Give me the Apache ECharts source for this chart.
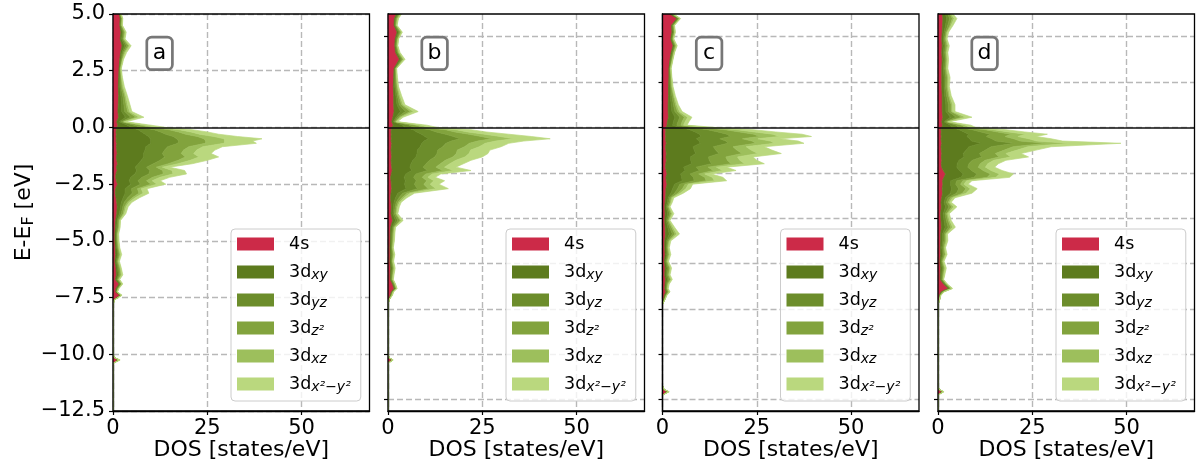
<!DOCTYPE html>
<html>
<head>
<meta charset="utf-8">
<script src="https://cdn.jsdelivr.net/npm/echarts@6.0.0/dist/echarts.min.js"></script>
<style>
  html, body { margin: 0; padding: 0; background: #ffffff; }
  #chart { width: 1198px; height: 470px; }
</style>
</head>
<body>
<div id="chart"></div>
<script>
// Energy grid (eV, relative to the Fermi level), shared by all four panels
const energy = [
  -12.5, -11.8, -11.65, -11.55, -11.4, -10.4, -10.25, -10.15, -10.0, -7.8,
  -7.6, -7.4, -7.25, -7.1, -6.9, -6.7, -6.5, -6.2, -5.9, -5.6,
  -5.3, -5.0, -4.7, -4.4, -4.1, -3.8, -3.5, -3.3, -3.1, -2.9,
  -2.7, -2.5, -2.35, -2.2, -2.05, -1.9, -1.75, -1.6, -1.45, -1.3,
  -1.15, -1.0, -0.85, -0.7, -0.6, -0.5, -0.4, -0.3, -0.2, -0.1,
  0.0, 0.1, 0.25, 0.45, 0.7, 1.0, 1.4, 1.8, 2.2, 2.6,
  3.0, 3.3, 3.6, 3.9, 4.2, 4.5, 4.8, 5.0
];

// Axis ticks
const dosTicks = [0, 25, 50];
const energyTicksMain = [-12.5, -10, -7.5, -5, -2.5, 0, 2.5, 5];
const energyTicksOther = [-12, -10, -8, -6, -4, -2, 0, 2, 4];

const panelTags = ['a', 'b', 'c', 'd'];
const orbitalNames = ['4s', '3dxy', '3dyz', '3dz2', '3dxz', '3dx2-y2'];

// ---- panel a: projected DOS (states/eV) ----
const a_4s = [
  0, 0, 0, 0, 0, 0, 1.3, 0.3, 0, 0,
  0.2, 1.8, 0.7, 0.8, 1.6, 0.6, 0.9, 0.8, 0.5, 0.7,
  0.6, 0.5, 0.5, 0.6, 0.7, 1.0, 1.1, 1.0, 0.8, 0.6,
  0.7, 1.2, 0.9, 0.7, 0.8, 1.1, 0.9, 1.2, 1.0, 0.9,
  1.1, 1.0, 0.9, 1.0, 0.8, 0.9, 0.8, 0.9, 0.8, 0.9,
  1.0, 1.3, 1.0, 1.5, 1.3, 1.4, 1.5, 1.4, 1.5, 1.6,
  1.8, 2.0, 2.4, 1.9, 2.1, 1.8, 1.9, 1.7
];
const a_dxy = [
  0, 0, 0, 0, 0, 0, 0.2, 0.1, 0, 0,
  0.1, 0.2, 0.2, 0.3, 0.3, 0.4, 0.5, 0.4, 0.4, 0.5,
  0.4, 0.3, 0.3, 0.4, 0.4, 0.7, 0.9, 1.2, 1.9, 2.6,
  2.5, 3.5, 3.4, 4.0, 5.0, 5.2, 5.0, 5.5, 6.5, 7.2,
  7.0, 7.5, 7.8, 9.0, 9.2, 9.0, 8.6, 7.6, 6.8, 5.8,
  3.9, 2.5, 0.7, 1.8, 1.0, 0.9, 0.6, 0.4, 0.3, 0.2,
  0.3, 0.4, 0.7, 0.4, 0.4, 0.2, 0.2, 0.1
];
const a_dyz = [
  0, 0, 0, 0, 0, 0, 0.1, 0, 0, 0,
  0.1, 0.1, 0.1, 0.2, 0.2, 0.2, 0.3, 0.3, 0.2, 0.3,
  0.2, 0.2, 0.2, 0.3, 0.2, 0.5, 0.6, 0.8, 1.2, 1.9,
  1.7, 2.6, 2.3, 3.0, 3.7, 3.5, 3.0, 4.0, 5.0, 5.6,
  5.0, 5.2, 5.8, 7.2, 7.4, 7.0, 6.6, 5.5, 5.0, 4.2,
  2.7, 1.8, 0.5, 1.4, 0.8, 0.6, 0.5, 0.3, 0.2, 0.1,
  0.2, 0.3, 0.5, 0.3, 0.3, 0.1, 0.2, 0.1
];
const a_dz2 = [
  0, 0, 0, 0, 0, 0, 0.1, 0, 0, 0,
  0, 0.1, 0.1, 0.1, 0.2, 0.2, 0.4, 0.3, 0.2, 0.3,
  0.2, 0.2, 0.2, 0.2, 0.3, 0.5, 0.5, 0.8, 1.2, 1.8,
  1.6, 2.8, 2.3, 2.8, 3.8, 3.4, 2.6, 4.0, 4.8, 5.5,
  5.0, 5.0, 5.6, 7.3, 7.2, 7.2, 6.4, 5.3, 4.8, 4.0,
  2.6, 1.8, 0.5, 1.4, 0.8, 0.6, 0.5, 0.3, 0.2, 0.1,
  0.2, 0.3, 0.5, 0.2, 0.3, 0.2, 0.1, 0.1
];
const a_dxz = [
  0, 0, 0, 0, 0, 0, 0.1, 0, 0, 0,
  0, 0.1, 0, 0.1, 0.1, 0.2, 0.2, 0.2, 0.2, 0.2,
  0.2, 0.2, 0.1, 0.2, 0.2, 0.3, 0.4, 0.5, 0.8, 1.1,
  1.0, 1.6, 1.5, 2.0, 2.6, 2.5, 1.6, 2.6, 3.2, 3.6,
  3.3, 3.5, 3.7, 5.0, 5.0, 5.4, 4.4, 3.7, 3.3, 2.7,
  1.7, 1.1, 0.3, 0.9, 0.5, 0.4, 0.3, 0.3, 0.1, 0.1,
  0.1, 0.3, 0.3, 0.2, 0.2, 0.1, 0.1, 0.1
];
const a_dx2y2 = [
  0, 0, 0, 0, 0, 0, 0.1, 0, 0, 0,
  0, 0.1, 0.1, 0.1, 0.2, 0.2, 0.3, 0.2, 0.2, 0.3,
  0.2, 0.2, 0.2, 0.2, 0.2, 0.4, 0.5, 0.7, 1.1, 1.5,
  1.5, 2.3, 2.1, 2.5, 3.6, 3.3, 1.9, 3.7, 4.5, 5.2,
  4.6, 4.8, 5.2, 8.5, 7.4, 10.0, 6.2, 5.0, 4.3, 3.4,
  2.1, 1.5, 0.5, 1.2, 0.6, 0.6, 0.4, 0.3, 0.2, 0.1,
  0.2, 0.3, 0.4, 0.2, 0.2, 0.1, 0.1, 0.1
];

// ---- panel b ----
const b_4s = [
  0, 0, 0, 0, 0, 0, 1.0, 0.2, 0, 0,
  0.2, 0.6, 0.9, 1.6, 1.2, 0.6, 0.6, 0.7, 0.5, 0.6,
  0.5, 0.6, 0.6, 0.7, 1.2, 0.8, 0.9, 0.8, 0.7, 0.8,
  1.0, 0.9, 0.8, 0.7, 0.9, 1.1, 1.0, 0.9, 0.8, 1.0,
  0.9, 0.8, 0.9, 1.0, 0.8, 0.9, 0.8, 0.9, 0.8, 0.9,
  1.0, 1.4, 1.0, 1.3, 1.6, 1.5, 1.5, 1.4, 1.5, 1.6,
  3.0, 2.0, 1.8, 1.9, 2.4, 1.6, 1.7, 2.2
];
const b_dxy = [
  0, 0, 0, 0, 0, 0, 0.1, 0.1, 0, 0,
  0.1, 0.2, 0.2, 0.3, 0.2, 0.2, 0.3, 0.4, 0.3, 0.3,
  0.3, 0.3, 0.4, 0.4, 0.8, 0.5, 0.6, 0.8, 1.3, 1.8,
  3.8, 3.5, 3.8, 3.6, 3.8, 5.2, 4.8, 5.2, 5.8, 6.4,
  6.8, 7.0, 7.6, 8.0, 8.8, 9.8, 9.0, 8.0, 6.8, 5.8,
  3.5, 2.5, 0.4, 0.8, 1.7, 0.9, 0.6, 0.4, 0.3, 0.2,
  0.4, 0.4, 0.2, 0.3, 0.4, 0.2, 0.3, 0.4
];
const b_dyz = [
  0, 0, 0, 0, 0, 0, 0.1, 0, 0, 0,
  0, 0.1, 0.1, 0.2, 0.2, 0.2, 0.2, 0.2, 0.2, 0.3,
  0.2, 0.2, 0.2, 0.3, 0.6, 0.4, 0.4, 0.6, 0.9, 1.3,
  3.0, 2.6, 2.9, 2.5, 2.7, 4.2, 3.5, 4.0, 4.4, 5.0,
  5.3, 5.4, 6.0, 6.4, 7.2, 8.4, 7.6, 6.4, 5.2, 4.4,
  2.5, 1.8, 0.3, 0.5, 1.3, 0.6, 0.4, 0.3, 0.2, 0.2,
  0.3, 0.2, 0.2, 0.2, 0.3, 0.2, 0.2, 0.3
];
const b_dz2 = [
  0, 0, 0, 0, 0, 0, 0.1, 0, 0, 0,
  0, 0.1, 0.1, 0.1, 0.2, 0.2, 0.2, 0.2, 0.2, 0.2,
  0.2, 0.2, 0.2, 0.2, 0.6, 0.4, 0.4, 0.5, 0.8, 1.2,
  2.9, 2.5, 2.8, 2.3, 2.6, 4.1, 3.4, 3.8, 4.2, 4.8,
  5.1, 5.2, 5.8, 6.2, 7.0, 8.4, 7.4, 6.2, 5.0, 4.2,
  2.4, 1.8, 0.3, 0.5, 1.3, 0.6, 0.4, 0.3, 0.2, 0.1,
  0.3, 0.2, 0.2, 0.2, 0.3, 0.2, 0.2, 0.3
];
const b_dxz = [
  0, 0, 0, 0, 0, 0, 0, 0, 0, 0,
  0, 0.1, 0.1, 0.1, 0.1, 0.1, 0.1, 0.2, 0.1, 0.2,
  0.1, 0.2, 0.2, 0.2, 0.3, 0.2, 0.3, 0.4, 0.6, 0.8,
  2.0, 1.7, 1.9, 1.5, 1.7, 2.8, 2.3, 2.5, 2.8, 3.2,
  3.4, 3.5, 3.9, 4.2, 4.8, 5.8, 5.0, 4.2, 3.4, 2.8,
  1.6, 1.2, 0.2, 0.4, 0.9, 0.4, 0.3, 0.2, 0.1, 0.1,
  0.2, 0.2, 0.1, 0.1, 0.2, 0.1, 0.2, 0.2
];
const b_dx2y2 = [
  0, 0, 0, 0, 0, 0, 0.1, 0, 0, 0,
  0, 0.1, 0.1, 0.1, 0.1, 0.1, 0.2, 0.2, 0.2, 0.2,
  0.1, 0.2, 0.2, 0.2, 0.5, 0.3, 0.4, 0.4, 0.7, 1.1,
  3.3, 2.3, 2.8, 1.9, 2.3, 4.6, 3.0, 3.6, 4.0, 4.6,
  5.0, 5.1, 5.8, 6.2, 7.4, 9.7, 8.2, 6.3, 4.8, 3.9,
  2.0, 1.6, 0.3, 0.5, 1.2, 0.5, 0.4, 0.2, 0.2, 0.1,
  0.3, 0.2, 0.1, 0.1, 0.2, 0.1, 0.2, 0.2
];

// ---- panel c ----
const c_4s = [
  0, 0, 1.2, 0.3, 0, 0, 0, 0, 0, 0,
  0.3, 0.5, 0.9, 0.6, 0.7, 0.8, 0.6, 0.7, 0.5, 0.7,
  0.6, 0.6, 0.8, 0.7, 0.6, 0.7, 0.6, 0.7, 0.8, 0.9,
  0.9, 1.2, 1.0, 0.9, 1.2, 1.0, 0.8, 0.9, 1.0, 0.9,
  1.0, 0.9, 0.8, 1.0, 0.9, 0.8, 0.9, 0.8, 0.9, 0.8,
  1.0, 1.2, 1.3, 1.6, 1.5, 1.5, 1.6, 1.6, 1.7, 1.7,
  2.0, 2.3, 2.8, 2.2, 2.5, 2.4, 3.8, 2.0
];
const c_dxy = [
  0, 0, 0.2, 0.1, 0, 0, 0, 0, 0, 0,
  0.1, 0.2, 0.3, 0.3, 0.3, 0.5, 0.4, 0.5, 0.3, 0.4,
  0.4, 0.5, 1.0, 0.7, 0.4, 0.7, 0.4, 0.6, 0.7, 1.3,
  1.8, 2.0, 4.2, 4.2, 3.6, 5.0, 4.8, 6.8, 6.5, 6.5,
  7.8, 7.5, 7.3, 9.0, 8.8, 8.2, 9.3, 9.0, 7.8, 6.4,
  3.8, 1.5, 1.6, 1.7, 1.0, 0.8, 0.5, 0.4, 0.2, 0.2,
  0.2, 0.3, 0.3, 0.2, 0.3, 0.2, 0.3, 0.3
];
const c_dyz = [
  0, 0, 0.1, 0, 0, 0, 0, 0, 0, 0,
  0.1, 0.2, 0.2, 0.2, 0.2, 0.4, 0.3, 0.3, 0.2, 0.3,
  0.2, 0.3, 0.8, 0.5, 0.3, 0.5, 0.3, 0.4, 0.4, 1.0,
  1.3, 1.4, 3.2, 3.1, 2.5, 3.8, 3.3, 5.3, 4.9, 4.8,
  6.2, 5.7, 5.4, 7.4, 7.1, 6.2, 7.8, 7.3, 6.0, 4.8,
  2.7, 1.1, 1.2, 1.3, 0.8, 0.6, 0.4, 0.2, 0.2, 0.1,
  0.2, 0.2, 0.2, 0.2, 0.2, 0.2, 0.2, 0.2
];
const c_dz2 = [
  0, 0, 0.1, 0, 0, 0, 0, 0, 0, 0,
  0.1, 0.1, 0.2, 0.2, 0.2, 0.4, 0.3, 0.4, 0.2, 0.3,
  0.2, 0.3, 0.7, 0.5, 0.3, 0.4, 0.3, 0.4, 0.4, 0.9,
  1.3, 1.4, 3.2, 3.0, 2.3, 3.7, 3.2, 5.2, 4.8, 4.6,
  6.1, 5.6, 5.2, 7.3, 7.0, 6.0, 7.7, 7.2, 5.8, 4.6,
  2.6, 1.1, 1.1, 1.2, 0.7, 0.5, 0.4, 0.2, 0.2, 0.1,
  0.2, 0.2, 0.2, 0.2, 0.2, 0.2, 0.2, 0.2
];
const c_dxz = [
  0, 0, 0.1, 0, 0, 0, 0, 0, 0, 0,
  0, 0.1, 0.2, 0.1, 0.2, 0.2, 0.2, 0.2, 0.2, 0.2,
  0.2, 0.2, 0.5, 0.4, 0.2, 0.3, 0.2, 0.2, 0.3, 0.6,
  0.9, 0.9, 2.2, 2.0, 1.6, 2.5, 2.2, 3.6, 3.3, 3.1,
  4.2, 3.8, 3.5, 5.0, 4.8, 4.1, 5.3, 5.0, 4.0, 3.2,
  1.8, 0.7, 0.8, 0.9, 0.5, 0.4, 0.2, 0.2, 0.1, 0.1,
  0.1, 0.1, 0.2, 0.1, 0.1, 0.1, 0.1, 0.1
];
const c_dx2y2 = [
  0, 0, 0.1, 0, 0, 0, 0, 0, 0, 0,
  0, 0.1, 0.2, 0.1, 0.2, 0.3, 0.2, 0.3, 0.2, 0.3,
  0.2, 0.3, 0.7, 0.4, 0.2, 0.4, 0.2, 0.3, 0.4, 0.8,
  1.2, 1.1, 3.2, 2.8, 1.8, 3.5, 2.7, 5.2, 4.5, 4.1,
  6.2, 5.5, 4.8, 7.8, 7.4, 5.7, 8.5, 7.7, 5.5, 4.2,
  2.1, 0.9, 1.0, 1.1, 0.7, 0.4, 0.3, 0.2, 0.1, 0.1,
  0.1, 0.1, 0.2, 0.1, 0.1, 0.1, 0.2, 0.2
];

// ---- panel d ----
const d_4s = [
  0, 0, 1.0, 0.2, 0, 0, 0, 0, 0, 0,
  0.3, 0.4, 0.8, 2.7, 1.5, 0.6, 0.6, 0.7, 0.5, 0.7,
  0.6, 0.7, 0.7, 0.9, 0.8, 0.7, 0.9, 0.8, 1.0, 1.2,
  1.1, 1.3, 1.2, 1.6, 2.0, 1.4, 1.0, 0.9, 1.0, 0.9,
  1.0, 0.9, 0.8, 1.0, 0.9, 0.8, 0.9, 0.8, 0.9, 0.8,
  1.0, 1.2, 1.0, 1.3, 1.1, 1.1, 1.1, 1.0, 1.0, 1.0,
  1.1, 1.0, 1.1, 1.0, 1.1, 1.2, 1.3, 1.2
];
const d_dxy = [
  0, 0, 0.2, 0.1, 0, 0, 0, 0, 0, 0,
  0.1, 0.1, 0.2, 0.4, 0.3, 0.3, 0.4, 0.4, 0.3, 0.5,
  0.4, 0.5, 0.5, 1.0, 0.8, 0.7, 1.1, 0.8, 1.0, 2.1,
  2.5, 2.0, 2.2, 4.5, 4.7, 4.3, 4.0, 4.2, 4.6, 6.0,
  5.7, 6.6, 7.4, 10.5, 8.0, 7.6, 6.8, 7.3, 6.0, 4.8,
  2.6, 2.1, 0.6, 2.0, 1.0, 1.0, 0.7, 0.6, 0.6, 0.5,
  0.5, 0.5, 0.5, 0.4, 0.5, 0.8, 1.0, 0.8
];
const d_dyz = [
  0, 0, 0.1, 0, 0, 0, 0, 0, 0, 0,
  0, 0.1, 0.2, 0.2, 0.2, 0.2, 0.2, 0.3, 0.2, 0.3,
  0.3, 0.4, 0.4, 0.8, 0.6, 0.5, 0.9, 0.6, 0.7, 1.6,
  1.9, 1.4, 1.6, 3.5, 3.6, 3.2, 2.9, 3.1, 3.5, 4.7,
  4.3, 5.1, 5.9, 8.8, 6.5, 5.9, 5.1, 5.7, 4.5, 3.5,
  1.9, 1.5, 0.4, 1.5, 0.7, 0.7, 0.5, 0.4, 0.5, 0.3,
  0.4, 0.3, 0.4, 0.3, 0.4, 0.6, 0.8, 0.6
];
const d_dz2 = [
  0, 0, 0.1, 0, 0, 0, 0, 0, 0, 0,
  0, 0.1, 0.2, 0.2, 0.2, 0.2, 0.2, 0.3, 0.2, 0.4,
  0.3, 0.4, 0.4, 0.7, 0.5, 0.4, 0.8, 0.5, 0.7, 1.6,
  1.9, 1.3, 1.6, 3.5, 3.6, 3.1, 2.8, 3.0, 3.4, 4.6,
  4.2, 5.0, 5.8, 8.6, 6.4, 5.8, 5.0, 5.6, 4.4, 3.4,
  1.8, 1.5, 0.4, 1.5, 0.7, 0.7, 0.5, 0.4, 0.4, 0.3,
  0.3, 0.3, 0.4, 0.3, 0.3, 0.6, 0.7, 0.6
];
const d_dxz = [
  0, 0, 0.1, 0, 0, 0, 0, 0, 0, 0,
  0, 0, 0.1, 0.2, 0.1, 0.1, 0.2, 0.2, 0.2, 0.2,
  0.2, 0.3, 0.2, 0.5, 0.4, 0.3, 0.5, 0.4, 0.5, 1.0,
  1.2, 0.9, 1.0, 2.3, 2.4, 2.1, 1.9, 2.0, 2.3, 3.1,
  2.8, 3.4, 4.0, 6.1, 4.4, 4.0, 3.4, 3.8, 3.0, 2.3,
  1.2, 1.0, 0.3, 1.1, 0.4, 0.4, 0.3, 0.3, 0.3, 0.2,
  0.2, 0.2, 0.3, 0.2, 0.2, 0.3, 0.5, 0.3
];
const d_dx2y2 = [
  0, 0, 0.1, 0, 0, 0, 0, 0, 0, 0,
  0, 0.1, 0.1, 0.2, 0.2, 0.1, 0.2, 0.3, 0.2, 0.3,
  0.2, 0.3, 0.3, 0.7, 0.4, 0.4, 0.8, 0.4, 0.6, 1.5,
  1.8, 1.1, 1.4, 3.6, 3.7, 2.9, 2.4, 2.8, 3.2, 4.7,
  4.0, 5.0, 6.1, 13.5, 6.8, 5.9, 4.8, 5.8, 4.2, 3.2,
  1.5, 1.4, 0.3, 1.6, 0.6, 0.6, 0.4, 0.3, 0.4, 0.3,
  0.3, 0.3, 0.3, 0.2, 0.3, 0.5, 0.7, 0.5
];

const panelLayers = [
  [a_4s, a_dxy, a_dyz, a_dz2, a_dxz, a_dx2y2],
  [b_4s, b_dxy, b_dyz, b_dz2, b_dxz, b_dx2y2],
  [c_4s, c_dxy, c_dyz, c_dz2, c_dxz, c_dx2y2],
  [d_4s, d_dxy, d_dyz, d_dz2, d_dxz, d_dx2y2]
];

// ---- styling / layout ----
const FONT = 'DejaVu Sans';
const orbitalColors = ['#cc2a48', '#5d7b1e', '#6c8d2b', '#82a33d', '#9dbf5c', '#bad87e'];
const legendText = {
  '4s': '4s',
  '3dxy': '3d{s|xy}',
  '3dyz': '3d{s|yz}',
  '3dz2': '3d{s|z²}',
  '3dxz': '3d{s|xz}',
  '3dx2-y2': '3d{s|x²\u2212y²}'
};
const gridLeft = [113, 388, 662.5, 938];
const gridWidth = 256.5;
const gridTop = 14;
const gridHeight = 397;
const dosMax = 68;
const eMin = -12.5, eMax = 5;

const tickFmt = v => (v < 0 ? '\u2212' : '') + Math.abs(v).toFixed(1);

// Stacked band k of a panel: area between cumulative sums k-1 and k
function bandRenderer(layers, k) {
  const lower = energy.map((_, i) => {
    let s = 0;
    for (let j = 0; j < k; j++) s += layers[j][i];
    return s;
  });
  const upper = lower.map((v, i) => v + layers[k][i]);
  return function (params, api) {
    const pts = [];
    for (let i = 0; i < energy.length; i++) pts.push(api.coord([upper[i], energy[i]]));
    for (let i = energy.length - 1; i >= 0; i--) pts.push(api.coord([lower[i], energy[i]]));
    const c = api.visual('color');
    return {
      type: 'polygon',
      shape: { points: pts },
      style: { fill: c, stroke: c, lineWidth: 0.7 }
    };
  };
}

const grids = [], xAxes = [], yAxes = [], series = [], legends = [], graphics = [];
const splitStyle = { color: '#b8b8b8', width: 1.4, type: [6, 3] };

panelTags.forEach((tag, p) => {
  grids.push({
    left: gridLeft[p], top: gridTop, width: gridWidth, height: gridHeight,
    show: true, borderColor: '#000', borderWidth: 1.3, backgroundColor: 'transparent',
    containLabel: false, outerBoundsMode: 'none', z: 10
  });
  xAxes.push({
    gridIndex: p, type: 'value', min: 0, max: dosMax,
    name: 'DOS [states/eV]', nameLocation: 'middle', nameGap: 28, nameMoveOverlap: false,
    nameTextStyle: { fontFamily: FONT, fontSize: 22, color: '#000' },
    axisLine: { show: true, onZero: false, lineStyle: { color: '#000', width: 1.3 } },
    axisTick: { show: true, length: 4, customValues: dosTicks, lineStyle: { color: '#000', width: 1.2 } },
    axisLabel: { show: true, customValues: dosTicks, fontFamily: FONT, fontSize: 21, color: '#000', margin: 7 },
    splitLine: { show: true, lineStyle: splitStyle }
  });
  const eTicks = p === 0 ? energyTicksMain : energyTicksOther;
  yAxes.push({
    gridIndex: p, type: 'value', min: eMin, max: eMax,
    name: p === 0 ? 'E-E{f|F} [eV]' : '',
    nameLocation: 'middle', nameGap: 76, nameRotate: 90, nameMoveOverlap: false,
    nameTextStyle: {
      fontFamily: FONT, fontSize: 22, color: '#000', lineHeight: 26,
      rich: { f: { fontFamily: FONT, fontSize: 16, color: '#000', lineHeight: 12, verticalAlign: 'bottom' } }
    },
    axisLine: { show: true, onZero: false, lineStyle: { color: '#000', width: 1.3 } },
    axisTick: { show: true, length: 4, customValues: eTicks, lineStyle: { color: '#000', width: 1.2 } },
    axisLabel: {
      show: p === 0, customValues: eTicks, formatter: tickFmt,
      fontFamily: FONT, fontSize: 21, color: '#000', margin: 8
    },
    splitLine: { show: true, lineStyle: splitStyle }
  });

  orbitalNames.forEach((name, k) => {
    const s = {
      type: 'custom', name: name,
      coordinateSystem: 'cartesian2d', xAxisIndex: p, yAxisIndex: p,
      clip: true, silent: true,
      itemStyle: { color: orbitalColors[k] },
      data: [[0, 0]],
      renderItem: bandRenderer(panelLayers[p], k),
      z: 2
    };
    if (k === orbitalNames.length - 1) {
      // Fermi level
      s.markLine = {
        silent: true, symbol: ['none', 'none'], label: { show: false },
        lineStyle: { color: '#111', width: 1.6, type: 'solid' },
        data: [{ yAxis: 0 }], z: 6
      };
    }
    series.push(s);
  });

  legends.push({
    data: orbitalNames, orient: 'vertical',
    left: gridLeft[p] + 118, top: 229,
    icon: 'rect', itemWidth: 37, itemHeight: 13, itemGap: 8,
    padding: [5, 10, 7, 6],
    backgroundColor: 'rgba(255,255,255,0.8)', borderColor: '#cccccc', borderWidth: 1, borderRadius: 4,
    selectedMode: false, z: 8,
    formatter: n => legendText[n],
    textStyle: {
      fontFamily: FONT, fontSize: 17.5, color: '#000', lineHeight: 20, padding: [0, 0, 0, 10],
      rich: { s: { fontFamily: FONT, fontSize: 14, fontStyle: 'italic', color: '#000', lineHeight: 8, verticalAlign: 'bottom' } }
    }
  });

  const bx = gridLeft[p] + 33.8, by = 37.05, bw = 25.6, bh = 32.6;
  graphics.push({
    type: 'rect', z: 20, silent: true,
    shape: { x: bx, y: by, width: bw, height: bh, r: 5 },
    style: { fill: '#ffffff', stroke: '#777777', lineWidth: 2.7 }
  });
  graphics.push({
    type: 'text', z: 21, silent: true, x: bx + bw / 2, y: by + bh / 2,
    style: { text: tag, fontFamily: FONT, fontSize: 22, fill: '#000', align: 'center', verticalAlign: 'middle' }
  });
});

const chart = echarts.init(document.getElementById('chart'), null, { renderer: 'canvas' });
chart.setOption({
  animation: false,
  backgroundColor: '#ffffff',
  grid: grids,
  xAxis: xAxes,
  yAxis: yAxes,
  legend: legends,
  series: series,
  graphic: graphics
});
</script>
</body>
</html>
